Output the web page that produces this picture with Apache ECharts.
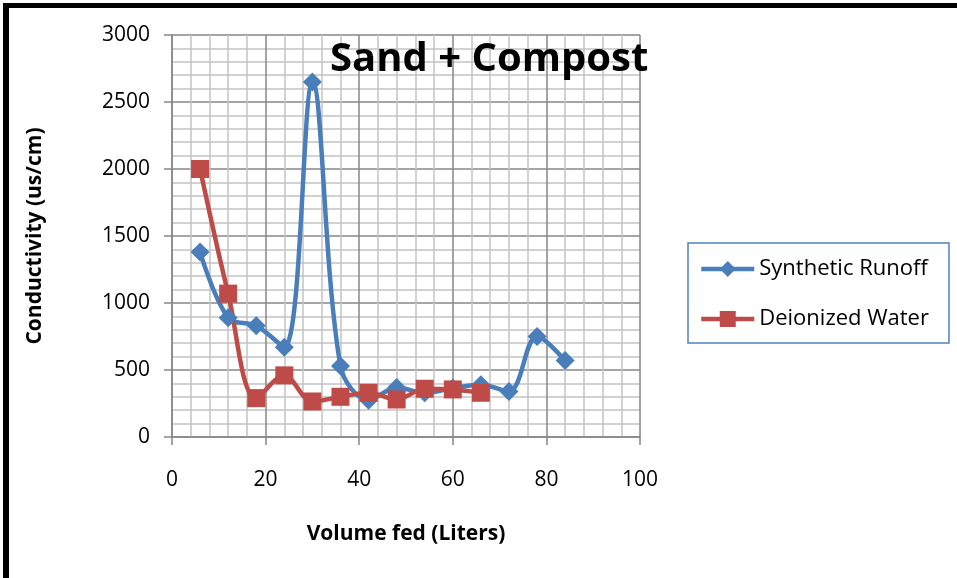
<!DOCTYPE html>
<html>
<head>
<meta charset="utf-8">
<title>Sand + Compost</title>
<script src="https://cdn.jsdelivr.net/npm/echarts@6/dist/echarts.min.js"></script>
<style>
  html, body { margin: 0; padding: 0; background: #fff; }
  #frame {
    position: absolute; left: 3px; top: 3px; width: 960px; height: 580px;
    border-left: 6px solid #000; border-top: 5px solid #000;
    pointer-events: none; z-index: 2;
  }
  #chart { position: absolute; left: 0; top: 0; width: 957px; height: 578px; }
</style>
</head>
<body>
<div id="chart"></div>
<div id="frame"></div>
<script>
// volume fed (L) for each sample
let runoffVolume = [6, 12, 18, 24, 30, 36, 42, 48, 54, 60, 66, 72, 78, 84]
let runoffValues = [1380, 890, 830, 670, 2650, 530, 275, 370, 330, 365, 390, 340, 750, 570]
let waterVolume = [6, 12, 18, 24, 30, 36, 42, 48, 54, 60, 66]
let waterValues = [2000, 1070, 290, 460, 265, 300, 330, 280, 360, 355, 330]
let seriesNames = ['Synthetic Runoff', 'Deionized Water']

let font = 'Open Sans'
let pair = (xs, ys) => xs.map((x, i) => [x, ys[i]])

let gridLines = {
  splitLine: { show: true, lineStyle: { color: '#878787', width: 1.5 } },
  minorTick: { show: false, splitNumber: 5 },
  minorSplitLine: { show: true, lineStyle: { color: '#c4c4c4', width: 1.5 } },
  axisLine: { show: true, onZero: false, lineStyle: { color: '#878787', width: 1.5 } },
  axisTick: { show: true, length: 8, lineStyle: { color: '#878787', width: 1.5 } }
}

var myChart = echarts.init(document.getElementById('chart'))
myChart.setOption({
  animation: false,
  title: {
    text: 'Sand + Compost',
    left: 325,
    top: 35,
    textStyle: { fontFamily: font, fontWeight: 'bold', fontSize: 40, color: '#000' }
  },
  grid: { left: 172, top: 35, right: 317, bottom: 141 },
  legend: {
    orient: 'vertical',
    left: 688,
    top: 243,
    padding: [15, 20, 13, 11],
    itemWidth: 53,
    itemHeight: 20,
    itemGap: 28,
    borderColor: '#4F81BD',
    borderWidth: 1.5,
    lineStyle: { width: 4.5 },
    textStyle: { fontFamily: font, fontSize: 22, color: '#000' },
    data: seriesNames
  },
  xAxis: Object.assign({
    type: 'value',
    min: 0,
    max: 100,
    interval: 20,
    name: 'Volume fed (Liters)',
    nameLocation: 'middle',
    nameGap: 87,
    nameTextStyle: { fontFamily: font, fontWeight: 'bold', fontSize: 21, color: '#000' },
    axisLabel: { margin: 33, fontFamily: font, fontSize: 21, color: '#000', formatter: v => String(v) }
  }, gridLines),
  yAxis: Object.assign({
    type: 'value',
    min: 0,
    max: 3000,
    interval: 500,
    name: 'Conductivity (us/cm)',
    nameLocation: 'middle',
    nameGap: 126,
    nameTextStyle: { fontFamily: font, fontWeight: 'bold', fontSize: 21, color: '#000' },
    axisLabel: { margin: 22, fontFamily: font, fontSize: 21, color: '#000', formatter: v => String(v) }
  }, gridLines),
  series: [
    {
      name: seriesNames[0],
      type: 'line',
      smooth: 0.35,
      data: pair(runoffVolume, runoffValues),
      symbol: 'diamond',
      symbolSize: 19,
      itemStyle: { color: '#4A7EBB' },
      lineStyle: { color: '#4A7EBB', width: 4.5 }
    },
    {
      name: seriesNames[1],
      type: 'line',
      smooth: 0.35,
      data: pair(waterVolume, waterValues),
      symbol: 'rect',
      symbolSize: 18,
      itemStyle: { color: '#BE4B48' },
      lineStyle: { color: '#BE4B48', width: 4.5 }
    }
  ]
})
</script>
</body>
</html>
